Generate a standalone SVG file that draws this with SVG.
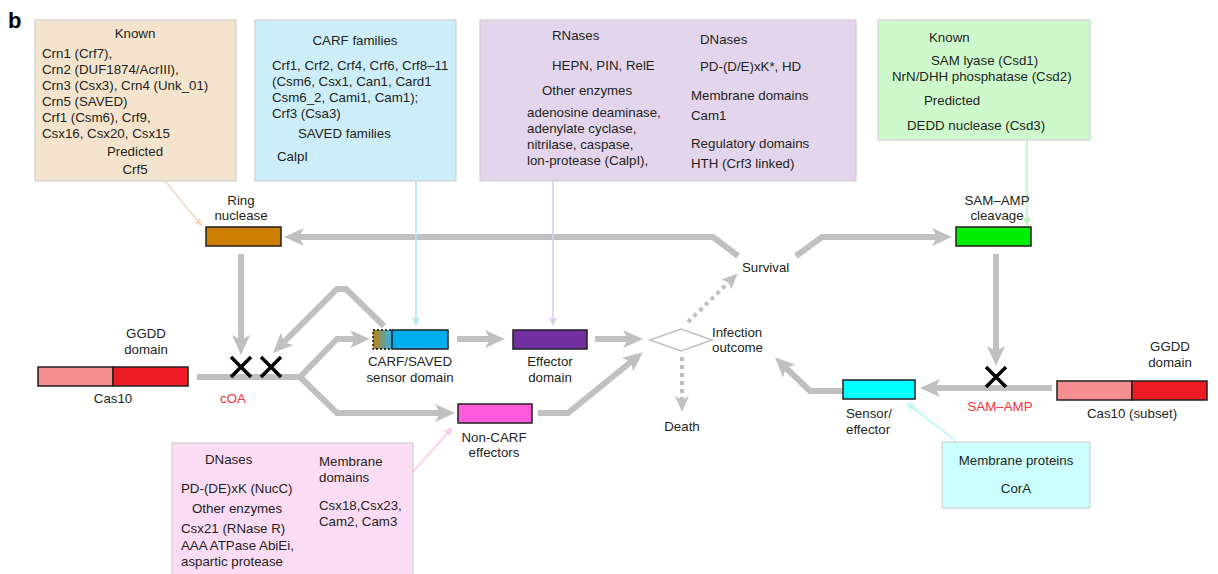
<svg xmlns="http://www.w3.org/2000/svg" width="1218" height="574" viewBox="0 0 1218 574">
<defs>
<style>
text{font-family:"Liberation Sans",Arial,sans-serif;font-size:13.3px;fill:#231f20}
.c{text-anchor:middle}
.red{fill:#ef3340}
.g{fill:none;stroke:#c0c0c0;stroke-width:6;stroke-linejoin:miter}
.d{fill:none;stroke:#c0c0c0;stroke-width:4;stroke-dasharray:4 4}
.box{stroke:#d0d0d0;stroke-width:1.2}
.bar{stroke:#231f20;stroke-width:1.5}
.x{stroke:#000;stroke-width:3.5;fill:none}
.thin{fill:none;stroke-width:1.6}
</style>
<marker id="ag" viewBox="0 0 20 18" markerWidth="20" markerHeight="18" refX="6" refY="9" orient="auto" markerUnits="userSpaceOnUse"><path d="M0,0 L20,9 L0,18 L5,9 z" fill="#c0c0c0"/></marker>
<marker id="ad" viewBox="0 0 16 14" markerWidth="16" markerHeight="14" refX="4" refY="7" orient="auto" markerUnits="userSpaceOnUse"><path d="M0,0 L16,7 L0,14 L4,7 z" fill="#c0c0c0"/></marker>
<marker id="mt" viewBox="0 0 9 8" markerWidth="9" markerHeight="8" refX="7" refY="4" orient="auto" markerUnits="userSpaceOnUse"><path d="M0,0 L9,4 L0,8 L2,4 z" fill="#f0dcbe"/></marker>
<marker id="mb" viewBox="0 0 9 8" markerWidth="9" markerHeight="8" refX="7" refY="4" orient="auto" markerUnits="userSpaceOnUse"><path d="M0,0 L9,4 L0,8 L2,4 z" fill="#b8e6f7"/></marker>
<marker id="mp" viewBox="0 0 9 8" markerWidth="9" markerHeight="8" refX="7" refY="4" orient="auto" markerUnits="userSpaceOnUse"><path d="M0,0 L9,4 L0,8 L2,4 z" fill="#dccbe8"/></marker>
<marker id="mg" viewBox="0 0 9 8" markerWidth="9" markerHeight="8" refX="7" refY="4" orient="auto" markerUnits="userSpaceOnUse"><path d="M0,0 L9,4 L0,8 L2,4 z" fill="#b8f5b8"/></marker>
<marker id="mk" viewBox="0 0 9 8" markerWidth="9" markerHeight="8" refX="7" refY="4" orient="auto" markerUnits="userSpaceOnUse"><path d="M0,0 L9,4 L0,8 L2,4 z" fill="#fac8ee"/></marker>
<marker id="mc" viewBox="0 0 9 8" markerWidth="9" markerHeight="8" refX="7" refY="4" orient="auto" markerUnits="userSpaceOnUse"><path d="M0,0 L9,4 L0,8 L2,4 z" fill="#b8fafa"/></marker>
<linearGradient id="grad" x1="0" y1="0" x2="1" y2="0"><stop offset="0" stop-color="#c08010"/><stop offset="1" stop-color="#30b4ec"/></linearGradient>
</defs>
<rect width="1218" height="574" fill="#fff"/>
<text x="8" y="28" style="font-size:22px;font-weight:bold;fill:#000">b</text>

<g id="connectors">
<path class="g" d="M738,256 L713,237 L298,237" marker-end="url(#ag)"/>
<path class="g" d="M796,256 L822,237 L938,237" marker-end="url(#ag)"/>
<path class="g" d="M241,254 L241,341" marker-end="url(#ag)"/>
<path class="g" d="M996,254 L996,352" marker-end="url(#ag)"/>
<path class="g" d="M197,377 L300,377"/>
<path class="g" d="M300,377 L337,339 L356,339" marker-end="url(#ag)"/>
<path class="g" d="M300,377 L337,413 L441,413" marker-end="url(#ag)"/>
<path class="g" d="M384,326 L346,289 L337,289 L283,343" marker-end="url(#ag)"/>
<path class="g" d="M457,339 L491,339" marker-end="url(#ag)"/>
<path class="g" d="M595,339 L629,339" marker-end="url(#ag)"/>
<path class="g" d="M538,413 L568,413 L632,361" marker-end="url(#ag)"/>
<path class="g" d="M1052,388 L934,388" marker-end="url(#ag)"/>
<path class="g" d="M843,391 L810,391 L785,367" marker-end="url(#ag)"/>
<path class="d" d="M688,322 L729,282" marker-end="url(#ad)"/>
<path class="d" d="M682,357 L682,400" marker-end="url(#ad)"/>
<path class="thin" stroke="#f0dcbe" d="M165,181 L201,225" marker-end="url(#mt)"/>
<path class="thin" stroke="#b8e6f7" d="M416,181 L416,324" marker-end="url(#mb)"/>
<path class="thin" stroke="#dccbe8" d="M553,181 L553,324" marker-end="url(#mp)"/>
<path class="thin" stroke="#b8f5b8" d="M1027,140 L1027,224" marker-end="url(#mg)"/>
<path class="thin" stroke="#fac8ee" d="M413,472 L451,429" marker-end="url(#mk)"/>
<path class="thin" stroke="#b8fafa" d="M956,441 L908,404" marker-end="url(#mc)"/>
<path class="x" d="M231,357 L251,377 M251,357 L231,377"/>
<path class="x" d="M261,357 L281,377 M281,357 L261,377"/>
<path class="x" d="M986,367 L1006,387 M1006,367 L986,387"/>
</g>

<g id="known-box">
<rect class="box" x="35" y="20" width="201" height="161" fill="#f4e4cd"/>
<text class="c" x="135" y="38">Known</text>
<text x="42" y="58">Crn1 (Crf7),</text>
<text x="42" y="74">Crn2 (DUF1874/AcrIII),</text>
<text x="42" y="90">Crn3 (Csx3), Crn4 (Unk_01)</text>
<text x="42" y="106">Crn5 (SAVED)</text>
<text x="42" y="122">Crf1 (Csm6), Crf9,</text>
<text x="42" y="138">Csx16, Csx20, Csx15</text>
<text class="c" x="135" y="156">Predicted</text>
<text class="c" x="135" y="174">Crf5</text>
</g>

<g id="carf-box">
<rect class="box" x="255" y="20" width="201" height="161" fill="#cdeef9"/>
<text class="c" x="355" y="45">CARF families</text>
<text x="272" y="70">Crf1, Crf2, Crf4, Crf6, Crf8–11</text>
<text x="272" y="86">(Csm6, Csx1, Can1, Card1</text>
<text x="272" y="102">Csm6_2, Cami1, Cam1);</text>
<text x="272" y="118">Crf3 (Csa3)</text>
<text x="298" y="138">SAVED families</text>
<text x="277" y="161">CalpI</text>
</g>

<g id="effector-box">
<rect class="box" x="480" y="20" width="376" height="161" fill="#e3d6ec"/>
<text x="552" y="40">RNases</text>
<text x="700" y="44">DNases</text>
<text x="552" y="70">HEPN, PIN, RelE</text>
<text x="700" y="71">PD-(D/E)xK*, HD</text>
<text x="542" y="95">Other enzymes</text>
<text x="691" y="100">Membrane domains</text>
<text x="527" y="117">adenosine deaminase,</text>
<text x="691" y="120">Cam1</text>
<text x="527" y="133">adenylate cyclase,</text>
<text x="527" y="149">nitrilase, caspase,</text>
<text x="691" y="148">Regulatory domains</text>
<text x="527" y="165">lon-protease (CalpI),</text>
<text x="691" y="168">HTH (Crf3 linked)</text>
</g>

<g id="sam-box">
<rect class="box" x="878" y="20" width="212" height="120" fill="#cdf9cd"/>
<text x="929" y="42">Known</text>
<text x="931" y="65">SAM lyase (Csd1)</text>
<text x="892" y="81">NrN/DHH phosphatase (Csd2)</text>
<text x="924" y="105">Predicted</text>
<text x="907" y="130">DEDD nuclease (Csd3)</text>
</g>

<g id="ring-nuclease">
<text class="c" x="241" y="205">Ring</text>
<text class="c" x="241" y="220">nuclease</text>
<rect class="bar" x="206" y="227" width="75" height="19" fill="#cc7f00"/>
</g>

<g id="sam-cleavage">
<text class="c" x="997" y="205">SAM–AMP</text>
<text class="c" x="997" y="220">cleavage</text>
<rect class="bar" x="956" y="227" width="75" height="19" fill="#00ee00"/>
</g>

<g id="survival"><text x="742" y="272">Survival</text></g>

<g id="cas10">
<text class="c" x="146" y="338">GGDD</text>
<text class="c" x="146" y="354">domain</text>
<rect class="bar" x="38" y="367" width="75" height="19" fill="#f48e90"/>
<rect class="bar" x="113" y="367" width="75" height="19" fill="#ed1c24"/>
<text class="c" x="113" y="403">Cas10</text>
<text class="c red" x="233" y="403">cOA</text>
</g>

<g id="carf-sensor">
<rect x="373" y="330" width="19" height="19" fill="url(#grad)"/>
<rect x="373" y="330" width="19" height="19" fill="none" stroke="#000" stroke-width="1.3" stroke-dasharray="2 2"/>
<rect class="bar" x="392" y="330" width="56" height="19" fill="#00aeef"/>
<text class="c" x="410" y="366">CARF/SAVED</text>
<text class="c" x="410" y="382">sensor domain</text>
</g>

<g id="effector-domain">
<rect class="bar" x="513" y="330" width="74" height="19" fill="#7030a0"/>
<text class="c" x="550" y="366">Effector</text>
<text class="c" x="550" y="382">domain</text>
</g>

<g id="infection-outcome">
<path d="M650,340 L681,329 L712,340 L681,351 Z" fill="#fff" stroke="#c0c0c0" stroke-width="1.5"/>
<text x="712" y="337">Infection</text>
<text x="712" y="352">outcome</text>
</g>

<g id="death"><text class="c" x="682" y="431">Death</text></g>

<g id="non-carf">
<rect class="bar" x="458" y="404" width="74" height="19" fill="#ff5bdc"/>
<text class="c" x="494" y="442">Non-CARF</text>
<text class="c" x="494" y="457">effectors</text>
</g>

<g id="non-carf-box">
<rect class="box" x="172" y="443" width="241" height="140" fill="#fcdcf4"/>
<text x="205" y="464">DNases</text>
<text x="319" y="466">Membrane</text>
<text x="319" y="482">domains</text>
<text x="181" y="493">PD-(DE)xK (NucC)</text>
<text x="192" y="513">Other enzymes</text>
<text x="319" y="510">Csx18,Csx23,</text>
<text x="319" y="526">Cam2, Cam3</text>
<text x="181" y="533">Csx21 (RNase R)</text>
<text x="181" y="550">AAA ATPase AbiEi,</text>
<text x="181" y="566">aspartic protease</text>
</g>

<g id="sensor-effector">
<rect class="bar" x="843" y="380" width="72" height="19" fill="#00ffff"/>
<text x="846" y="418">Sensor/</text>
<text x="846" y="434">effector</text>
<text class="c red" x="1000" y="411">SAM–AMP</text>
</g>

<g id="cas10-subset">
<text class="c" x="1170" y="351">GGDD</text>
<text class="c" x="1170" y="367">domain</text>
<rect class="bar" x="1057" y="381" width="75" height="19" fill="#f48e90"/>
<rect class="bar" x="1132" y="381" width="75" height="19" fill="#ed1c24"/>
<text class="c" x="1132" y="418">Cas10 (subset)</text>
</g>

<g id="membrane-box">
<rect class="box" x="942" y="442" width="148" height="66" fill="#ccffff"/>
<text class="c" x="1016" y="465">Membrane proteins</text>
<text class="c" x="1016" y="493">CorA</text>
</g>
</svg>
